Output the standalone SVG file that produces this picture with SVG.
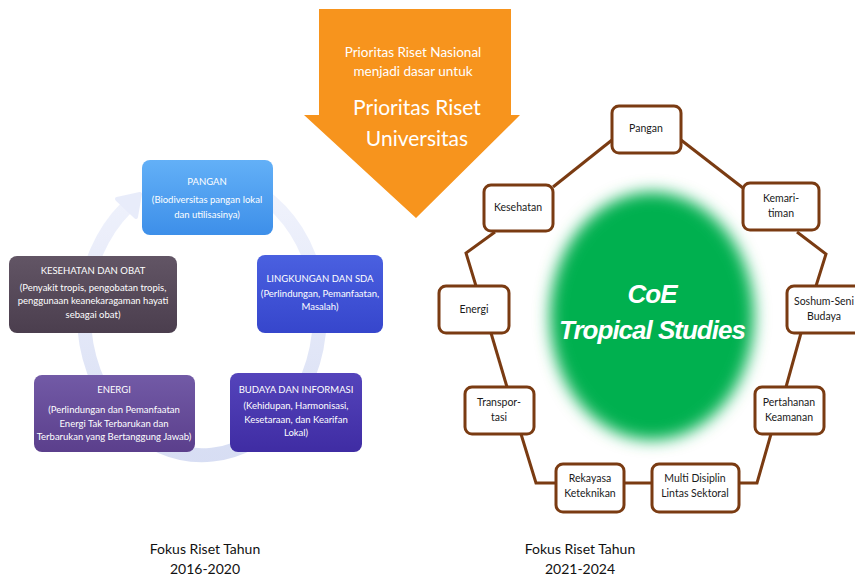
<svg xmlns="http://www.w3.org/2000/svg" width="855" height="580" viewBox="0 0 855 580">
<style>
.g{font-family:Lato,"Open Sans","Liberation Sans",sans-serif}
.wt{fill:#fff;font-size:9.5px;text-anchor:middle}
.rb{fill:#fff;stroke:#7a3b12;stroke-width:3}
.rt{fill:#1a1a1a;font-size:10.5px;text-anchor:middle}
.con{fill:none;stroke:#7a3b12;stroke-width:3;stroke-linejoin:miter}
.cap{fill:#111;font-size:14px;text-anchor:middle}
</style>
<defs>
<linearGradient id="gP" x1="0" y1="0" x2="0" y2="1"><stop offset="0" stop-color="#63b0f7"/><stop offset="1" stop-color="#3d8fe9"/></linearGradient>
<linearGradient id="gL" x1="0" y1="0" x2="0" y2="1"><stop offset="0" stop-color="#4a60e0"/><stop offset="1" stop-color="#3646cc"/></linearGradient>
<linearGradient id="gB" x1="0" y1="0" x2="0" y2="1"><stop offset="0" stop-color="#5444bb"/><stop offset="1" stop-color="#3f2ca3"/></linearGradient>
<linearGradient id="gE" x1="0" y1="0" x2="0" y2="1"><stop offset="0" stop-color="#725aa6"/><stop offset="1" stop-color="#5b3f8c"/></linearGradient>
<linearGradient id="gK" x1="0" y1="0" x2="0" y2="1"><stop offset="0" stop-color="#625565"/><stop offset="1" stop-color="#4b3e4e"/></linearGradient>
<linearGradient id="gR" x1="0" y1="0" x2="0" y2="1"><stop offset="0" stop-color="#eef1fc"/><stop offset="1" stop-color="#d3daf2"/></linearGradient>
<filter id="blur" x="-30%" y="-30%" width="160%" height="160%"><feGaussianBlur stdDeviation="8"/></filter>
</defs>

<!-- orange arrow -->
<g id="priority-arrow">
<polygon points="319,9 511,9 511,115 520,115 416,218 304,115 319,115" fill="#f7941d"/>
<text class="g" x="413" y="57" fill="#fff" font-size="13.5" text-anchor="middle">Prioritas Riset Nasional</text>
<text class="g" x="413" y="76" fill="#fff" font-size="13.5" text-anchor="middle">menjadi dasar untuk</text>
<text class="g" x="417" y="115" fill="#fff" font-size="21" text-anchor="middle">Prioritas Riset</text>
<text class="g" x="417" y="146" fill="#fff" font-size="21" text-anchor="middle">Universitas</text>
</g>

<!-- left cycle ring -->
<g id="cycle-ring" opacity="0.9">
<path d="M261,194 A118,140 0 1 1 126,208" fill="none" stroke="url(#gR)" stroke-width="14"/>
<polygon points="136,217 117,199 140,194" fill="#e6eafa" stroke="#e6eafa" stroke-width="4" stroke-linejoin="round"/>
</g>

<g id="pangan-l">
<rect x="142" y="160" width="131" height="75" rx="8" fill="url(#gP)"/>
<text class="g wt" x="207" y="185">PANGAN</text>
<text class="g wt" x="207" y="203">(Biodiversitas pangan lokal</text>
<text class="g wt" x="207" y="218">dan utilisasinya)</text>
</g>
<g id="lingkungan">
<rect x="257" y="255" width="126" height="78" rx="8" fill="url(#gL)"/>
<text class="g wt" x="320" y="282">LINGKUNGAN DAN SDA</text>
<text class="g wt" x="320" y="297">(Perlindungan, Pemanfaatan,</text>
<text class="g wt" x="320" y="310">Masalah)</text>
</g>
<g id="kesehatan-obat">
<rect x="9" y="256" width="168" height="77" rx="8" fill="url(#gK)"/>
<text class="g wt" x="93" y="274">KESEHATAN DAN OBAT</text>
<text class="g wt" x="93" y="291">(Penyakit tropis, pengobatan tropis,</text>
<text class="g wt" x="93" y="304">penggunaan keanekaragaman hayati</text>
<text class="g wt" x="93" y="318">sebagai obat)</text>
</g>
<g id="energi-l">
<rect x="34" y="375" width="161" height="77" rx="8" fill="url(#gE)"/>
<text class="g wt" x="114" y="393">ENERGI</text>
<text class="g wt" x="114" y="413">(Perlindungan dan Pemanfaatan</text>
<text class="g wt" x="114" y="427">Energi Tak Terbarukan dan</text>
<text class="g wt" x="114" y="440">Terbarukan yang Bertanggung Jawab)</text>
</g>
<g id="budaya">
<rect x="230" y="373" width="132" height="79" rx="8" fill="url(#gB)"/>
<text class="g wt" x="296" y="393">BUDAYA DAN INFORMASI</text>
<text class="g wt" x="296" y="409">(Kehidupan, Harmonisasi,</text>
<text class="g wt" x="296" y="423">Kesetaraan, dan Kearifan</text>
<text class="g wt" x="296" y="436">Lokal)</text>
</g>

<!-- green center -->
<g id="coe">
<ellipse cx="652" cy="316" rx="102" ry="124" fill="#00b050" filter="url(#blur)"/>
<text x="652" y="303" fill="#fff" font-family="'Liberation Sans',Arial,sans-serif" font-weight="bold" font-style="italic" font-size="26" letter-spacing="-1" text-anchor="middle">CoE</text>
<text x="652" y="339" fill="#fff" font-family="'Liberation Sans',Arial,sans-serif" font-weight="bold" font-style="italic" font-size="26" letter-spacing="-1" text-anchor="middle">Tropical Studies</text>
</g>

<!-- connectors -->
<g id="connectors">
<polyline class="con" points="612,140 553,187"/>
<polyline class="con" points="681,140 743,188"/>
<polyline class="con" points="797,232 826,254 816,286"/>
<polyline class="con" points="495,232 466,253 476,286"/>
<polyline class="con" points="491,333 507,387"/>
<polyline class="con" points="801,333 786,387"/>
<polyline class="con" points="521,434 536,483 556,483"/>
<polyline class="con" points="624,483 652,483"/>
<polyline class="con" points="739,483 757,483 771,434"/>
</g>

<g id="pangan-r"><rect class="rb" x="612" y="106" width="69" height="47" rx="7"/><text class="g rt" x="646" y="132">Pangan</text></g>
<g id="kemaritiman"><rect class="rb" x="743" y="183" width="76" height="47" rx="7"/><text class="g rt" x="781" y="202">Kemari-</text><text class="g rt" x="781" y="217">timan</text></g>
<g id="kesehatan-r"><rect class="rb" x="484" y="185" width="69" height="46" rx="7"/><text class="g rt" x="518" y="211">Kesehatan</text></g>
<g id="energi-r"><rect class="rb" x="439" y="286" width="70" height="47" rx="7"/><text class="g rt" x="474" y="313">Energi</text></g>
<g id="soshum"><rect class="rb" x="787" y="286" width="76" height="47" rx="7"/><text class="g rt" x="824" y="305">Soshum-Seni</text><text class="g rt" x="824" y="320">Budaya</text></g>
<g id="transportasi"><rect class="rb" x="465" y="387" width="69" height="47" rx="7"/><text class="g rt" x="499" y="406">Transpor-</text><text class="g rt" x="499" y="421">tasi</text></g>
<g id="pertahanan"><rect class="rb" x="755" y="387" width="69" height="47" rx="7"/><text class="g rt" x="789" y="406">Pertahanan</text><text class="g rt" x="789" y="421">Keamanan</text></g>
<g id="rekayasa"><rect class="rb" x="556" y="464" width="68" height="48" rx="7"/><text class="g rt" x="590" y="482">Rekayasa</text><text class="g rt" x="590" y="497">Keteknikan</text></g>
<g id="multidisiplin"><rect class="rb" x="652" y="464" width="87" height="48" rx="7"/><text class="g rt" x="695" y="482">Multi Disiplin</text><text class="g rt" x="695" y="497">Lintas Sektoral</text></g>

<g id="captions">
<text class="g cap" x="205" y="554">Fokus Riset Tahun</text>
<text class="g cap" x="205" y="574">2016-2020</text>
<text class="g cap" x="580" y="554">Fokus Riset Tahun</text>
<text class="g cap" x="580" y="574">2021-2024</text>
</g>
</svg>
